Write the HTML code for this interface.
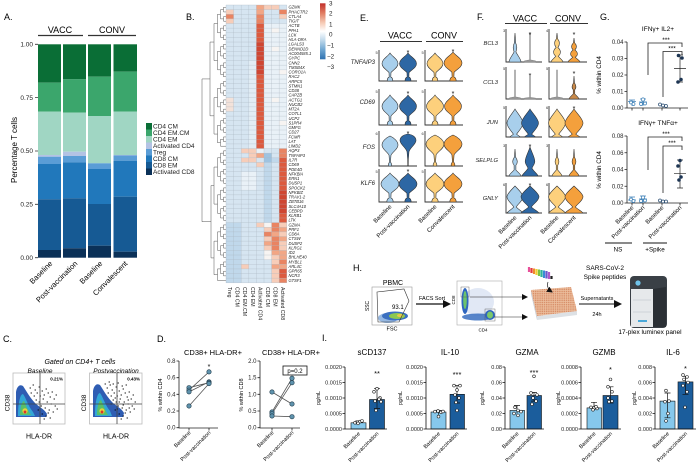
<!DOCTYPE html>
<html><head><meta charset="utf-8"><style>html,body{margin:0;padding:0;background:#fff}svg{display:block}</style></head>
<body>
<svg width="700" height="467" viewBox="0 0 700 467" xmlns="http://www.w3.org/2000/svg" xmlns:xlink="http://www.w3.org/1999/xlink" font-family="Liberation Sans, Arial, sans-serif">
<defs>
<path id="vd" vector-effect="non-scaling-stroke" d="M0,0C0.25,0.12 1,0.22 1,0.38C1,0.52 0.4,0.6 0.12,0.7L0.1,0.86C0.3,0.88 0.35,0.92 0.35,1L-0.35,1C-0.35,0.92 -0.3,0.88 -0.1,0.86L-0.12,0.7C-0.4,0.6 -1,0.52 -1,0.38C-1,0.22 -0.25,0.12 0,0Z"/>
<path id="vf" vector-effect="non-scaling-stroke" d="M0,0C0.6,0.02 1,0.1 1,0.2C1,0.32 0.35,0.4 0.12,0.55L0.04,0.8L0.03,1L-0.03,1L-0.04,0.8L-0.12,0.55C-0.35,0.4 -1,0.32 -1,0.2C-1,0.1 -0.6,0.02 0,0Z"/>
<path id="vfos" vector-effect="non-scaling-stroke" d="M0,0C0.5,0.06 1,0.18 1,0.3C1,0.44 0.35,0.52 0.12,0.64L0.06,0.86L0.2,0.94L0.2,1L-0.2,1L-0.2,0.94L-0.06,0.86L-0.12,0.64C-0.35,0.52 -1,0.44 -1,0.3C-1,0.18 -0.5,0.06 0,0Z"/>
<path id="vj" vector-effect="non-scaling-stroke" d="M0,0C0.3,0.15 1,0.35 1,0.5C1,0.65 0.4,0.8 0.2,0.9C0.4,0.95 0.6,0.98 0.7,1L-0.7,1C-0.6,0.98 -0.4,0.95 -0.2,0.9C-0.4,0.8 -1,0.65 -1,0.5C-1,0.35 -0.3,0.15 0,0Z"/>
<path id="vg" vector-effect="non-scaling-stroke" d="M0,0C0.3,0.1 1,0.28 1,0.4C1,0.55 0.3,0.68 0.15,0.78C0.5,0.88 0.9,0.95 1,1L-1,1C-0.9,0.95 -0.5,0.88 -0.15,0.78C-0.3,0.68 -1,0.55 -1,0.4C-1,0.28 -0.3,0.1 0,0Z"/>
<path id="vs" vector-effect="non-scaling-stroke" d="M0,0L0.12,0.35C0.35,0.45 0.35,0.55 0.15,0.65C0.5,0.8 1,0.9 1,1L-1,1C-1,0.9 -0.5,0.8 -0.15,0.65C-0.35,0.55 -0.35,0.45 -0.12,0.35Z"/>
<path id="vl" vector-effect="non-scaling-stroke" d="M-0.06,0L0.06,0L0.06,0.93L0.9,0.96L0.9,1L-0.9,1L-0.9,0.96L-0.06,0.93Z"/>
<path id="vp" vector-effect="non-scaling-stroke" d="M0,0L0.1,0.3C0.45,0.42 0.5,0.52 0.15,0.6L0.15,0.78C0.6,0.88 1,0.95 1,1L-1,1C-1,0.95 -0.6,0.88 -0.15,0.78L-0.15,0.6C-0.5,0.52 -0.45,0.42 -0.1,0.3Z"/>
<path id="vp2" vector-effect="non-scaling-stroke" d="M0,0C0.15,0.15 0.6,0.35 0.6,0.5C0.6,0.6 0.3,0.66 0.25,0.74C0.6,0.88 1,0.95 1,1L-1,1C-1,0.95 -0.6,0.88 -0.25,0.74C-0.3,0.66 -0.6,0.6 -0.6,0.5C-0.6,0.35 -0.15,0.15 0,0Z"/>
<path id="vk" vector-effect="non-scaling-stroke" d="M0,0L0.1,0.2C0.5,0.3 0.5,0.4 0.15,0.5C0.7,0.6 0.7,0.72 0.2,0.8C0.6,0.9 1,0.95 1,1L-1,1C-1,0.95 -0.6,0.9 -0.2,0.8C-0.7,0.72 -0.7,0.6 -0.15,0.5C-0.5,0.4 -0.5,0.3 -0.1,0.2Z"/>
<linearGradient id="cbar" x1="0" y1="0" x2="0" y2="1">
<stop offset="0" stop-color="#c2302b"/><stop offset="0.17" stop-color="#e07a5f"/><stop offset="0.35" stop-color="#f6cbb6"/><stop offset="0.5" stop-color="#ffffff"/><stop offset="0.65" stop-color="#c3dbec"/><stop offset="0.83" stop-color="#6ea6d1"/><stop offset="1" stop-color="#2d71b0"/>
</linearGradient>
<pattern id="wells" width="2.2" height="2.2" patternUnits="userSpaceOnUse"><circle cx="1.1" cy="1.1" r="0.75" fill="#d27f58"/></pattern>
<marker id="ah" markerWidth="6" markerHeight="6" refX="5" refY="3" orient="auto" markerUnits="userSpaceOnUse"><path d="M0,0L6,3L0,6Z" fill="#111"/></marker>
<marker id="ah2" markerWidth="8" markerHeight="8" refX="6" refY="4" orient="auto" markerUnits="userSpaceOnUse"><path d="M0,0L8,4L0,8Z" fill="#111"/></marker>
</defs>
<rect width="700" height="467" fill="#fff"/>

<!-- ============ PANEL A ============ -->
<text x="4" y="20" font-size="9">A.</text>
<text x="60" y="33" font-size="9" text-anchor="middle">VACC</text>
<text x="112" y="33" font-size="9" text-anchor="middle">CONV</text>
<path d="M38 35.5H83M88 35.5H136" stroke="#333" stroke-width="1.2"/>
<g>
<rect x="38" y="44.3" width="23" height="38.4" fill="#0a6e36"/>
<rect x="38" y="82.7" width="23" height="29" fill="#3ba66c"/>
<rect x="38" y="111.7" width="23" height="43.3" fill="#a0d6c3"/>
<rect x="38" y="155" width="23" height="1.7" fill="#b4c3e4"/>
<rect x="38" y="156.7" width="23" height="7.3" fill="#5a9dd6"/>
<rect x="38" y="164" width="23" height="35.3" fill="#2178bb"/>
<rect x="38" y="199.3" width="23" height="50.7" fill="#165a94"/>
<rect x="38" y="250" width="23" height="7.7" fill="#0b3158"/>

<rect x="63" y="44.3" width="23" height="35" fill="#0a6e36"/>
<rect x="63" y="79.3" width="23" height="33.4" fill="#3ba66c"/>
<rect x="63" y="112.7" width="23" height="39" fill="#a0d6c3"/>
<rect x="63" y="151.7" width="23" height="4.3" fill="#b4c3e4"/>
<rect x="63" y="156" width="23" height="6.3" fill="#5a9dd6"/>
<rect x="63" y="162.3" width="23" height="36" fill="#2178bb"/>
<rect x="63" y="198.3" width="23" height="50" fill="#165a94"/>
<rect x="63" y="248.3" width="23" height="9.4" fill="#0b3158"/>

<rect x="88" y="44.3" width="23" height="32.4" fill="#0a6e36"/>
<rect x="88" y="76.7" width="23" height="39.3" fill="#3ba66c"/>
<rect x="88" y="116" width="23" height="47.3" fill="#a0d6c3"/>
<rect x="88" y="163.3" width="23" height="5.7" fill="#5a9dd6"/>
<rect x="88" y="169" width="23" height="35" fill="#2178bb"/>
<rect x="88" y="204" width="23" height="41.7" fill="#165a94"/>
<rect x="88" y="245.7" width="23" height="12" fill="#0b3158"/>

<rect x="113.5" y="44.3" width="23.5" height="27.4" fill="#0a6e36"/>
<rect x="113.5" y="71.7" width="23.5" height="40" fill="#3ba66c"/>
<rect x="113.5" y="111.7" width="23.5" height="43.3" fill="#a0d6c3"/>
<rect x="113.5" y="155" width="23.5" height="0.6" fill="#b4c3e4"/>
<rect x="113.5" y="155.5" width="23.5" height="5.2" fill="#5a9dd6"/>
<rect x="113.5" y="160.7" width="23.5" height="36" fill="#2178bb"/>
<rect x="113.5" y="196.7" width="23.5" height="55" fill="#165a94"/>
<rect x="113.5" y="251.7" width="23.5" height="6" fill="#0b3158"/>
</g>
<path d="M35 44.3H38M35 97.6H38M35 151H38M35 204.3H38M35 257.7H38" stroke="#333" stroke-width="0.8"/>
<g font-size="6.5" text-anchor="end" fill="#222">
<text x="33" y="46.5">1.00</text><text x="33" y="99.8">0.75</text><text x="33" y="153.2">0.50</text><text x="33" y="206.5">0.25</text><text x="33" y="259.9">0.00</text>
</g>
<text transform="translate(17,150) rotate(-90)" font-size="8" text-anchor="middle">Percentage T cells</text>
<g font-size="7.5" text-anchor="end">
<text transform="translate(53,264) rotate(-45)">Baseline</text>
<text transform="translate(78,264) rotate(-45)">Post-vaccination</text>
<text transform="translate(103,264) rotate(-45)">Baseline</text>
<text transform="translate(128,264) rotate(-45)">Convalescent</text>
</g>
<g>
<rect x="146" y="123" width="6" height="6.5" fill="#0a6e36"/>
<rect x="146" y="129.5" width="6" height="6.5" fill="#3ba66c"/>
<rect x="146" y="136" width="6" height="6.5" fill="#a0d6c3"/>
<rect x="146" y="142.5" width="6" height="6.5" fill="#b4c3e4"/>
<rect x="146" y="149" width="6" height="6.5" fill="#5a9dd6"/>
<rect x="146" y="155.5" width="6" height="6.5" fill="#2178bb"/>
<rect x="146" y="162" width="6" height="6.5" fill="#165a94"/>
<rect x="146" y="168.5" width="6" height="6.5" fill="#0b3158"/>
</g>
<g font-size="6.5" fill="#222">
<text x="153" y="128.6">CD4 CM</text><text x="153" y="135.1">CD4 EM.CM</text><text x="153" y="141.6">CD4 EM</text><text x="153" y="148.1">Activated CD4</text><text x="153" y="154.6">Treg</text><text x="153" y="161.1">CD8 CM</text><text x="153" y="167.6">CD8 EM</text><text x="153" y="174.1">Activated CD8</text>
</g>

<!-- ============ PANEL B ============ -->
<text x="186" y="20" font-size="9">B.</text>
<g transform="translate(0,7.315) scale(1,4.63)" fill="none" stroke="#555" stroke-width="0.5">
<path vector-effect="non-scaling-stroke" d="M226 0H223.5V1H226M226 2H223.5V3H226M226 4H223.5V5H226M226 6H223.5V7H226M226 8H223.5V9H226M226 10H223.5V11H226M226 12H223.5V13H226M226 14H223.5V15H226M226 16H223.5V17H226M226 18H223.5V19H226M226 20H223.5V21H226M226 22H223.5V23H226M226 24H223.5V25H226M226 26H223.5V27H226M226 28H223.5V29H226M226 31H223.5V32H226M226 33H223.5V34H226M226 35H223.5V36H226M226 37H223.5V38H226M226 39H223.5V40H226M226 41H223.5V42H226M226 43H223.5V44H226M226 45H223.5V46H226M226 47H223.5V48H226M226 49H223.5V50H226M226 51H223.5V52H226M226 53H223.5V54H226M226 55H223.5V56H226M226 57H223.5V58H226"/>
<path vector-effect="non-scaling-stroke" d="M223.5 0.5H220.5V2.5H223.5M223.5 4.5H220.5V6.5H223.5M223.5 8.5H220.5V10.5H223.5M223.5 12.5H220.5V14.5H223.5M223.5 16.5H220.5V18.5H223.5M223.5 20.5H220.5V22.5H223.5M223.5 24.5H220.5V26.5H223.5M223.5 28.5H220.5V30H226M223.5 31.5H220.5V33.5H223.5M223.5 35.5H220.5V37.5H223.5M223.5 39.5H220.5V41.5H223.5M223.5 43.5H220.5V45.5H223.5M223.5 47.5H220.5V49.5H223.5M223.5 51.5H220.5V53.5H223.5M223.5 55.5H220.5V57.5H223.5"/>
<path vector-effect="non-scaling-stroke" d="M220.5 1.5H217.5V5.5H220.5M220.5 9.5H217.5V13.5H220.5M220.5 17.5H217.5V21.5H220.5M220.5 25.5H217.5V29.25H220.5M220.5 32.5H217.5V36.5H220.5M220.5 40.5H217.5V44.5H220.5M220.5 48.5H217.5V52.5H220.5M220.5 56.5H217.5V59H226"/>
<path vector-effect="non-scaling-stroke" d="M217.5 3.5H214V11.5H217.5M217.5 19.5H214V27.375H217.5M217.5 34.5H214V42.5H217.5M217.5 50.5H214V57.75H217.5M214 7.5H210V23.44H214M214 38.5H211V54.13H214M210 15.47H202V46.31H211"/>
</g>
<g transform="translate(226,5) scale(7.6,4.63)">
<rect x="0" y="0" width="8" height="60" fill="#d6e5f1"/>
<rect x="5" y="4" width="3" height="27" fill="#e9f1f7"/>
<rect x="3" y="12" width="1" height="19" fill="#e2edf5"/>
<rect x="4" y="4" width="1" height="27" fill="#dc5a3e"/>
<rect x="4" y="8" width="1" height="7" fill="#cf4632"/>
<rect x="4" y="0" width="1" height="2" fill="#f2a685"/>
<rect x="4" y="2" width="1" height="2" fill="#e98462"/>
<rect x="0" y="1" width="1" height="1" fill="#f7cdb9"/>
<rect x="0" y="2" width="1" height="1" fill="#e98462"/>
<rect x="0" y="3" width="1" height="1" fill="#f7cdb9"/>
<rect x="7" y="1" width="1" height="1" fill="#e98462"/>
<rect x="7" y="2" width="1" height="1" fill="#f7cdb9"/>
<rect x="5" y="0" width="2" height="1" fill="#f7cdb9"/>
<rect x="6" y="5" width="1" height="1" fill="#f7f4f2"/>
<rect x="6" y="9" width="1" height="1" fill="#f7f4f2"/>
<rect x="7" y="14" width="1" height="1" fill="#f7f4f2"/>
<rect x="6" y="20" width="1" height="1" fill="#f7f4f2"/>
<rect x="7" y="25" width="1" height="1" fill="#f7f4f2"/>
<rect x="0" y="20" width="1" height="3" fill="#f3e2da"/>
<rect x="7" y="31" width="1" height="16" fill="#dc5a3e"/>
<rect x="7" y="31" width="1" height="2" fill="#e98462"/>
<rect x="7" y="40" width="1" height="5" fill="#cf4632"/>
<rect x="2" y="31" width="2" height="1" fill="#f7cdb9"/>
<rect x="4" y="31" width="1" height="1" fill="#e9f1f7"/>
<rect x="3" y="32" width="1" height="1" fill="#f7cdb9"/>
<rect x="4" y="32" width="1" height="1" fill="#f2a685"/>
<rect x="5" y="32" width="1" height="2" fill="#9fc3e0"/>
<rect x="2" y="33" width="2" height="1" fill="#f7cdb9"/>
<rect x="6" y="33" width="1" height="1" fill="#c0d8eb"/>
<rect x="4" y="34" width="1" height="1" fill="#f7cdb9"/>
<rect x="5" y="34" width="1" height="13" fill="#c0d8eb"/>
<rect x="2" y="36" width="2" height="4" fill="#e9f1f7"/>
<rect x="0" y="47" width="2" height="13" fill="#c0d8eb"/>
<rect x="4" y="47" width="1" height="1" fill="#f7cdb9"/>
<rect x="5" y="47" width="1" height="1" fill="#f7f4f2"/>
<rect x="6" y="47" width="1" height="1" fill="#e98462"/>
<rect x="7" y="47" width="1" height="1" fill="#f7cdb9"/>
<rect x="5" y="48" width="1" height="1" fill="#f7cdb9"/>
<rect x="6" y="48" width="1" height="1" fill="#e98462"/>
<rect x="7" y="48" width="1" height="1" fill="#f2a685"/>
<rect x="5" y="49" width="1" height="1" fill="#e98462"/>
<rect x="6" y="49" width="1" height="1" fill="#f2a685"/>
<rect x="7" y="49" width="1" height="1" fill="#f7cdb9"/>
<rect x="5" y="50" width="1" height="1" fill="#f7cdb9"/>
<rect x="6" y="50" width="1" height="1" fill="#e98462"/>
<rect x="7" y="50" width="1" height="1" fill="#f2a685"/>
<rect x="5" y="51" width="1" height="1" fill="#f2a685"/>
<rect x="6" y="51" width="1" height="1" fill="#e98462"/>
<rect x="7" y="51" width="1" height="1" fill="#f7cdb9"/>
<rect x="5" y="52" width="1" height="1" fill="#f7cdb9"/>
<rect x="6" y="52" width="1" height="1" fill="#e98462"/>
<rect x="7" y="52" width="1" height="1" fill="#f7cdb9"/>
<rect x="5" y="53" width="1" height="2" fill="#f7f4f2"/>
<rect x="6" y="53" width="1" height="1" fill="#f2a685"/>
<rect x="7" y="53" width="1" height="2" fill="#f2a685"/>
<rect x="6" y="54" width="1" height="2" fill="#f7cdb9"/>
<rect x="7" y="55" width="1" height="1" fill="#e98462"/>
<rect x="2" y="56" width="1" height="1" fill="#f7cdb9"/>
<rect x="6" y="56" width="1" height="1" fill="#f2a685"/>
<rect x="7" y="56" width="1" height="1" fill="#f2a685"/>
<rect x="6" y="57" width="1" height="3" fill="#f7cdb9"/>
<rect x="7" y="57" width="1" height="2" fill="#dc5a3e"/>
<rect x="7" y="59" width="1" height="1" fill="#e98462"/>
<path vector-effect="non-scaling-stroke" fill="none" stroke="#aab5bf" stroke-width="0.3" d="M0 0V60M1 0V60M2 0V60M3 0V60M4 0V60M5 0V60M6 0V60M7 0V60M8 0V60M0 0H8M0 1H8M0 2H8M0 3H8M0 4H8M0 5H8M0 6H8M0 7H8M0 8H8M0 9H8M0 10H8M0 11H8M0 12H8M0 13H8M0 14H8M0 15H8M0 16H8M0 17H8M0 18H8M0 19H8M0 20H8M0 21H8M0 22H8M0 23H8M0 24H8M0 25H8M0 26H8M0 27H8M0 28H8M0 29H8M0 30H8M0 31H8M0 32H8M0 33H8M0 34H8M0 35H8M0 36H8M0 37H8M0 38H8M0 39H8M0 40H8M0 41H8M0 42H8M0 43H8M0 44H8M0 45H8M0 46H8M0 47H8M0 48H8M0 49H8M0 50H8M0 51H8M0 52H8M0 53H8M0 54H8M0 55H8M0 56H8M0 57H8M0 58H8M0 59H8M0 60H8"/>
</g>
<text x="288.5" y="8.7" font-size="4.1" font-style="italic" fill="#222"><tspan x="288.5">GZMK</tspan><tspan x="288.5" dy="4.63">PHACTR2</tspan><tspan x="288.5" dy="4.63">CTLA4</tspan><tspan x="288.5" dy="4.63">TIGIT</tspan><tspan x="288.5" dy="4.63">ACTB</tspan><tspan x="288.5" dy="4.63">PPA1</tspan><tspan x="288.5" dy="4.63">LCK</tspan><tspan x="288.5" dy="4.63">HLA-DRA</tspan><tspan x="288.5" dy="4.63">LGALS3</tspan><tspan x="288.5" dy="4.63">DENND2D</tspan><tspan x="288.5" dy="4.63">AC004585.1</tspan><tspan x="288.5" dy="4.63">GYPC</tspan><tspan x="288.5" dy="4.63">CNN2</tspan><tspan x="288.5" dy="4.63">TMSB4X</tspan><tspan x="288.5" dy="4.63">CORO1A</tspan><tspan x="288.5" dy="4.63">RAC2</tspan><tspan x="288.5" dy="4.63">ARPC5</tspan><tspan x="288.5" dy="4.63">STMN1</tspan><tspan x="288.5" dy="4.63">CD38</tspan><tspan x="288.5" dy="4.63">CAPZB</tspan><tspan x="288.5" dy="4.63">ACTG1</tspan><tspan x="288.5" dy="4.63">NUCB2</tspan><tspan x="288.5" dy="4.63">MT2A</tspan><tspan x="288.5" dy="4.63">COTL1</tspan><tspan x="288.5" dy="4.63">UCP2</tspan><tspan x="288.5" dy="4.63">S1PR4</tspan><tspan x="288.5" dy="4.63">GMFG</tspan><tspan x="288.5" dy="4.63">CD27</tspan><tspan x="288.5" dy="4.63">FCMR</tspan><tspan x="288.5" dy="4.63">LAT</tspan><tspan x="288.5" dy="4.63">LIMD2</tspan><tspan x="288.5" dy="4.63">AQP3</tspan><tspan x="288.5" dy="4.63">TNFAIP3</tspan><tspan x="288.5" dy="4.63">IL7R</tspan><tspan x="288.5" dy="4.63">CD69</tspan><tspan x="288.5" dy="4.63">PDE4D</tspan><tspan x="288.5" dy="4.63">NFKBIA</tspan><tspan x="288.5" dy="4.63">ERN1</tspan><tspan x="288.5" dy="4.63">DUSP1</tspan><tspan x="288.5" dy="4.63">SPOCK2</tspan><tspan x="288.5" dy="4.63">NFKBIZ</tspan><tspan x="288.5" dy="4.63">TRAV1-2</tspan><tspan x="288.5" dy="4.63">ZBTB16</tspan><tspan x="288.5" dy="4.63">SLC4A10</tspan><tspan x="288.5" dy="4.63">CEBPD</tspan><tspan x="288.5" dy="4.63">KLRB1</tspan><tspan x="288.5" dy="4.63">LTK</tspan><tspan x="288.5" dy="4.63">GZMA</tspan><tspan x="288.5" dy="4.63">PRF1</tspan><tspan x="288.5" dy="4.63">CD8A</tspan><tspan x="288.5" dy="4.63">CTSW</tspan><tspan x="288.5" dy="4.63">DUSP2</tspan><tspan x="288.5" dy="4.63">KLRG1</tspan><tspan x="288.5" dy="4.63">ID2</tspan><tspan x="288.5" dy="4.63">BHLHE40</tspan><tspan x="288.5" dy="4.63">MYBL1</tspan><tspan x="288.5" dy="4.63">ARL4C</tspan><tspan x="288.5" dy="4.63">GPR65</tspan><tspan x="288.5" dy="4.63">NCR3</tspan><tspan x="288.5" dy="4.63">GTSF1</tspan></text>
<g font-size="5.2" fill="#222">
<text transform="translate(228,287) rotate(90)">Treg</text>
<text transform="translate(235.6,287) rotate(90)">CD4 CM</text>
<text transform="translate(243.2,287) rotate(90)">CD4 EM.CM</text>
<text transform="translate(250.8,287) rotate(90)">CD4 EM</text>
<text transform="translate(258.4,287) rotate(90)">Activated CD4</text>
<text transform="translate(266,287) rotate(90)">CD8 CM</text>
<text transform="translate(273.6,287) rotate(90)">CD8 EM</text>
<text transform="translate(281.2,287) rotate(90)">Activated CD8</text>
</g>
<rect x="320" y="3.3" width="5.5" height="56" fill="url(#cbar)"/>
<g font-size="6.3" fill="#222">
<text x="329" y="5.6">3</text><text x="329" y="15.6">2</text><text x="329" y="26.3">1</text><text x="329" y="36.6">0</text><text x="327" y="47.3">−1</text><text x="327" y="58.3">−2</text><text x="327" y="69">−3</text>
</g>

<!-- ============ PANEL E ============ -->
<text x="360" y="21" font-size="9">E.</text>
<text x="400" y="38.5" font-size="9" text-anchor="middle">VACC</text>
<text x="444" y="38.5" font-size="9" text-anchor="middle">CONV</text>
<path d="M380 41.5H422M426 41.5H463" stroke="#333" stroke-width="1.1"/>
<path d="M379 50V81H417M425 50V81H463M379 89V125H417M425 89V125H463M379 131V166H417M425 131V166H463M379 169V202H417M425 169V202H463" fill="none" stroke="#333" stroke-width="0.9"/>
<g font-size="4" fill="#333">
<text x="375.5" y="54">5</text><text x="421.5" y="54">5</text>
<text x="375.5" y="93">5</text><text x="421.5" y="93">5</text>
<text x="375.5" y="135">6</text><text x="421.5" y="135">6</text>
<text x="375.5" y="173">5</text><text x="421.5" y="173">5</text>
</g>
<g font-size="6" font-style="italic" text-anchor="end" fill="#222">
<text x="375" y="64">TNFAIP3</text><text x="375" y="104">CD69</text><text x="375" y="149">FOS</text><text x="375" y="185">KLF6</text>
</g>
<g stroke="#333" stroke-width="0.6">
<use xlink:href="#vd" href="#vd" transform="translate(390,53) scale(8,28)" fill="#a8cfec"/>
<use xlink:href="#vd" href="#vd" transform="translate(408,53) scale(8.5,28)" fill="#2d67a4"/>
<use xlink:href="#vd" href="#vd" transform="translate(435,53) scale(8,28)" fill="#fdd07c"/>
<use xlink:href="#vd" href="#vd" transform="translate(453,52) scale(9,29)" fill="#f4a03c"/>
<use xlink:href="#vd" href="#vd" transform="translate(390,95) scale(8,30)" fill="#a8cfec"/>
<use xlink:href="#vd" href="#vd" transform="translate(408,95) scale(8.5,30)" fill="#2d67a4"/>
<use xlink:href="#vd" href="#vd" transform="translate(435,95) scale(8.5,30)" fill="#fdd07c"/>
<use xlink:href="#vd" href="#vd" transform="translate(453,95) scale(8.5,30)" fill="#f4a03c"/>
<use xlink:href="#vfos" href="#vfos" transform="translate(390,136) scale(8,30)" fill="#a8cfec"/>
<use xlink:href="#vf" href="#vf" transform="translate(408,134) scale(8,32)" fill="#2d67a4"/>
<use xlink:href="#vfos" href="#vfos" transform="translate(435,135) scale(9,31)" fill="#fdd07c"/>
<use xlink:href="#vfos" href="#vfos" transform="translate(453,135) scale(9,31)" fill="#f4a03c"/>
<use xlink:href="#vd" href="#vd" transform="translate(390,173) scale(9,29)" fill="#a8cfec"/>
<use xlink:href="#vd" href="#vd" transform="translate(408,173) scale(9,29)" fill="#2d67a4"/>
<use xlink:href="#vd" href="#vd" transform="translate(435,173) scale(9,29)" fill="#fdd07c"/>
<use xlink:href="#vd" href="#vd" transform="translate(453,173) scale(9,29)" fill="#f4a03c"/>
</g>
<g font-size="7" text-anchor="middle">
<text x="408" y="55">*</text><text x="453" y="54">*</text>
<text x="408" y="96">*</text><text x="453" y="96">*</text>
<text x="408" y="136">*</text>
<text x="408" y="174">*</text>
</g>
<g font-size="6" text-anchor="end">
<text transform="translate(392,207) rotate(-45)">Baseline</text>
<text transform="translate(410,207) rotate(-45)">Post-vaccination</text>
<text transform="translate(437,207) rotate(-45)">Baseline</text>
<text transform="translate(455,207) rotate(-45)">Convalescent</text>
</g>

<!-- ============ PANEL F ============ -->
<text x="477" y="20" font-size="9">F.</text>
<text x="525" y="21.5" font-size="9" text-anchor="middle">VACC</text>
<text x="568" y="21.5" font-size="9" text-anchor="middle">CONV</text>
<path d="M505 23.5H547M550 23.5H588" stroke="#333" stroke-width="1.1"/>
<path d="M506 29V62H542M549 29V62H587M506 67V99H542M549 67V99H587M506 106V137H542M549 106V137H587M506 144V176H542M549 144V176H587M506 183V213H542M549 183V213H587" fill="none" stroke="#333" stroke-width="0.9"/>
<g font-size="4" fill="#333">
<text x="503" y="32">3</text><text x="546" y="32">4</text>
<text x="503" y="70">5</text><text x="546" y="70">5</text>
<text x="503" y="109">5</text><text x="546" y="109">6</text>
<text x="503" y="147">3</text><text x="546" y="147">3</text>
<text x="503" y="186">6</text><text x="546" y="186">6</text>
</g>
<g font-size="5.8" font-style="italic" text-anchor="end" fill="#222">
<text x="498" y="45">BCL3</text><text x="498" y="84">CCL3</text><text x="498" y="124">JUN</text><text x="498" y="162">SELPLG</text><text x="498" y="200">GNLY</text>
</g>
<g stroke="#333" stroke-width="0.6">
<use xlink:href="#vs" href="#vs" transform="translate(515,33) scale(6,29)" fill="#a8cfec"/>
<use xlink:href="#vl" href="#vl" transform="translate(530,33) scale(6,29)" fill="#9a9a9a" stroke="#888"/>
<use xlink:href="#vk" href="#vk" transform="translate(557,33) scale(6,29)" fill="#fdd07c"/>
<use xlink:href="#vk" href="#vk" transform="translate(574,38) scale(6,24)" fill="#f4a03c"/>
<use xlink:href="#vl" href="#vl" transform="translate(515,70) scale(6,29)" fill="#9a9a9a" stroke="#888"/>
<use xlink:href="#vl" href="#vl" transform="translate(530,76) scale(6,23)" fill="#9a9a9a" stroke="#888"/>
<use xlink:href="#vl" href="#vl" transform="translate(557,70) scale(6,29)" fill="#9a9a9a" stroke="#888"/>
<use xlink:href="#vp" href="#vp" transform="translate(574,76) scale(5,23)" fill="#c98a4a"/>
<use xlink:href="#vj" href="#vj" transform="translate(515,109) scale(8,28)" fill="#a8cfec"/>
<use xlink:href="#vj" href="#vj" transform="translate(530,109) scale(8.5,28)" fill="#2d67a4"/>
<use xlink:href="#vj" href="#vj" transform="translate(557,109) scale(8.5,28)" fill="#fdd07c"/>
<use xlink:href="#vj" href="#vj" transform="translate(574,109) scale(9,28)" fill="#f4a03c"/>
<use xlink:href="#vp" href="#vp" transform="translate(515,149) scale(6,27)" fill="#a8cfec"/>
<use xlink:href="#vp2" href="#vp2" transform="translate(530,147) scale(8,29)" fill="#2d67a4"/>
<use xlink:href="#vp" href="#vp" transform="translate(557,149) scale(5,27)" fill="#fdd07c"/>
<use xlink:href="#vp" href="#vp" transform="translate(574,149) scale(5,27)" fill="#f4a03c"/>
<use xlink:href="#vg" href="#vg" transform="translate(515,186) scale(8,27)" fill="#a8cfec"/>
<use xlink:href="#vg" href="#vg" transform="translate(530,186) scale(9,27)" fill="#2d67a4"/>
<use xlink:href="#vg" href="#vg" transform="translate(557,186) scale(8.5,27)" fill="#fdd07c"/>
<use xlink:href="#vg" href="#vg" transform="translate(574,186) scale(9,27)" fill="#f4a03c"/>
</g>
<g font-size="7" text-anchor="middle">
<text x="530" y="37">*</text><text x="574" y="37">*</text>
<text x="530" y="78">*</text><text x="574" y="76">*</text>
<text x="574" y="111">*</text>
<text x="530" y="149">*</text>
<text x="530" y="188">*</text>
</g>
<g font-size="6" text-anchor="end">
<text transform="translate(517,218) rotate(-45)">Baseline</text>
<text transform="translate(532,218) rotate(-45)">Post-vaccination</text>
<text transform="translate(559,218) rotate(-45)">Baseline</text>
<text transform="translate(576,218) rotate(-45)">Convalescent</text>
</g>

<!-- ============ PANEL G ============ -->
<text x="600" y="20" font-size="9">G.</text>
<text x="658" y="31" font-size="6.5" text-anchor="middle">IFNγ+ IL2+</text>
<path d="M627 42V108H688M624.5 42H627M624.5 58.5H627M624.5 75H627M624.5 91.5H627M624.5 108H627M632 108V110.5M643 108V110.5M662 108V110.5M680 108V110.5" fill="none" stroke="#222" stroke-width="0.8"/>
<g font-size="6" text-anchor="end" fill="#222">
<text x="623.5" y="44">0.04</text><text x="623.5" y="60.5">0.03</text><text x="623.5" y="77">0.02</text><text x="623.5" y="93.5">0.01</text><text x="623.5" y="110">0.00</text>
</g>
<text transform="translate(601,75) rotate(-90)" font-size="6.3" text-anchor="middle">% within CD4</text>
<path d="M648 75V43H682V47M663 97V51.5H682V55" fill="none" stroke="#222" stroke-width="0.8"/>
<g font-size="6.5" text-anchor="middle"><text x="666" y="42">***</text><text x="672" y="50.5">***</text></g>
<g fill="none" stroke-width="0.7">
<path d="M628 101.5H636M632 100V106M629 100H635" stroke="#3b7fb6"/>
<circle cx="631" cy="102.5" r="1.5" stroke="#3b7fb6" fill="#fff"/><circle cx="633.5" cy="104" r="1.5" stroke="#3b7fb6" fill="#fff"/>
<path d="M639 102H647M643 99V106M640 99H646" stroke="#3b7fb6"/>
<circle cx="643" cy="99.5" r="1.6" stroke="#3b7fb6" fill="#fff"/><circle cx="641" cy="104" r="1.5" stroke="#3b7fb6" fill="#fff"/><circle cx="645" cy="103.5" r="1.5" stroke="#3b7fb6" fill="#fff"/>
<circle cx="660" cy="104.5" r="1.5" stroke="#2a4d72" fill="#fff"/><circle cx="663" cy="105.5" r="1.5" stroke="#2a4d72" fill="#fff"/><circle cx="666" cy="106" r="1.5" stroke="#2a4d72" fill="#fff"/>
<path d="M674 68.4H686M680 55V82M677 55H683M677 82H683" stroke="#222"/>
</g>
<g fill="#1d3553"><circle cx="678.5" cy="55.5" r="1.8"/><circle cx="682" cy="58" r="1.8"/><circle cx="681" cy="79.5" r="1.8"/><circle cx="678" cy="82" r="1.8"/></g>

<text x="658" y="125" font-size="6.5" text-anchor="middle">IFNγ+ TNFα+</text>
<path d="M627 136V203H688M624.5 136H627M624.5 152.75H627M624.5 169.5H627M624.5 186.25H627M624.5 203H627M632 203V205.5M643 203V205.5M662 203V205.5M680 203V205.5" fill="none" stroke="#222" stroke-width="0.8"/>
<g font-size="6" text-anchor="end" fill="#222">
<text x="623.5" y="138">0.08</text><text x="623.5" y="154.75">0.06</text><text x="623.5" y="171.5">0.04</text><text x="623.5" y="188.25">0.02</text><text x="623.5" y="205">0.00</text>
</g>
<text transform="translate(601,170) rotate(-90)" font-size="6.3" text-anchor="middle">% within CD4</text>
<path d="M648 170V137H682V141M663 193V146H682V150" fill="none" stroke="#222" stroke-width="0.8"/>
<g font-size="6.5" text-anchor="middle"><text x="666" y="136">***</text><text x="672" y="145">***</text></g>
<g fill="none" stroke-width="0.7">
<path d="M628 200H636M632 197V203M629 197H635" stroke="#3b7fb6"/>
<circle cx="631" cy="199.5" r="1.5" stroke="#3b7fb6" fill="#fff"/><circle cx="633.5" cy="201" r="1.5" stroke="#3b7fb6" fill="#fff"/>
<path d="M639 199H647M643 196V203M640 196H646" stroke="#3b7fb6"/>
<circle cx="643" cy="197.5" r="1.6" stroke="#3b7fb6" fill="#fff"/><circle cx="641" cy="201" r="1.5" stroke="#3b7fb6" fill="#fff"/><circle cx="645" cy="200.5" r="1.5" stroke="#3b7fb6" fill="#fff"/>
<circle cx="660" cy="200.5" r="1.5" stroke="#2a4d72" fill="#fff"/><circle cx="663" cy="201.5" r="1.5" stroke="#2a4d72" fill="#fff"/><circle cx="666" cy="201.5" r="1.5" stroke="#2a4d72" fill="#fff"/>
<path d="M674 173.7H686M680 160V188M677 160H683M677 188H683" stroke="#222"/>
</g>
<g fill="#1d3553"><circle cx="680" cy="160.5" r="1.8"/><circle cx="678" cy="166" r="1.8"/><circle cx="681" cy="177" r="1.8"/><circle cx="679" cy="180" r="1.8"/></g>
<g font-size="6" text-anchor="end">
<text transform="translate(634,208) rotate(-45)">Baseline</text>
<text transform="translate(645,208) rotate(-45)">Post-vaccination</text>
<text transform="translate(664,208) rotate(-45)">Baseline</text>
<text transform="translate(682,208) rotate(-45)">Post-vaccination</text>
</g>
<path d="M605 243H632M643 243H667" stroke="#444" stroke-width="1.2"/>
<text x="618" y="251.5" font-size="6.3" text-anchor="middle">NS</text>
<text x="655" y="251.5" font-size="6.3" text-anchor="middle">+Spike</text>

<!-- ============ PANEL C ============ -->
<text x="3" y="342" font-size="9">C.</text>
<text x="80" y="364" font-size="7" font-style="italic" text-anchor="middle">Gated on CD4+ T cells</text>
<rect x="13" y="373" width="52" height="51" fill="#fff" stroke="#bbb" stroke-width="0.8"/>
<rect x="89.5" y="373" width="52.5" height="51" fill="#fff" stroke="#bbb" stroke-width="0.8"/>
<path d="M16 417L16 392C17 386 20 384 23 386C27 392 30 398 36 404C41 408 45 410 47 414L46 417Z" fill="#2f5db3"/>
<path d="M18 416C18 404 20 394 23 394C26 398 28 406 33 412L35 416Z" fill="#33a6d6"/>
<path d="M20 415C20 408 22 401 24 401C26 405 28 411 31 415Z" fill="#58c06a"/>
<ellipse cx="25" cy="411" rx="2.6" ry="2.8" fill="#e8d23a"/><ellipse cx="25" cy="412" rx="1.4" ry="1.5" fill="#d8372a"/>
<path d="M93 417L93 391C94 385 97 383 100 385C104 391 107 397 113 403C118 407 122 409 124 413L123 417Z" fill="#2f5db3"/>
<path d="M95 416C95 403 97 393 100 393C103 397 105 405 110 411L112 416Z" fill="#33a6d6"/>
<path d="M97 415C97 407 99 400 101 400C103 404 105 410 108 415Z" fill="#58c06a"/>
<ellipse cx="102" cy="411" rx="2.6" ry="2.8" fill="#e8d23a"/><ellipse cx="102" cy="412" rx="1.4" ry="1.5" fill="#d8372a"/>
<path d="M30 388h.5M33 385h.5M35 390h.5M37 393h.5M39 387h.5M42 391h.5M44 395h.5M46 389h.5M48 393h.5M50 397h.5M52 392h.5M54 399h.5M43 399h.5M47 402h.5M51 404h.5M55 406h.5M41 406h.5M45 408h.5M49 410h.5M53 412h.5M38 410h.5M42 414h.5M46 416h.5M50 418h.5M36 400h.5M57 409h.5M40 396h.5M34 396h.5M31 393h.5M56 395h.5M39 402h.5M48 413h.5M44 419h.5M107 388h.5M110 385h.5M112 390h.5M114 393h.5M116 387h.5M119 391h.5M121 395h.5M123 389h.5M125 393h.5M127 397h.5M129 392h.5M131 399h.5M120 399h.5M124 402h.5M128 404h.5M132 406h.5M118 406h.5M122 408h.5M126 410h.5M130 412h.5M115 410h.5M119 414h.5M123 416h.5M127 418h.5M113 400h.5M134 409h.5M117 396h.5M111 396h.5M108 393h.5M133 395h.5M116 402h.5M125 413h.5M121 419h.5M105 384h.5M109 382h.5M113 384h.5M118 383h.5M122 386h.5M126 385h.5M115 398h.5M119 402h.5M123 405h.5M128 400h.5M135 402h.5M111 404h.5M117 409h.5M129 408h.5" stroke="#000" stroke-width="1" stroke-linecap="round"/>
<path d="M40 373V424M13 404H65M117 373V424M89.5 404H142" stroke="#444" stroke-width="0.8"/>
<text x="40" y="373" font-size="6.5" font-style="italic" text-anchor="middle">Baseline</text>
<text x="116" y="373" font-size="6.5" font-style="italic" text-anchor="middle">Postvaccination</text>
<text x="63" y="380.5" font-size="4.5" font-weight="bold" text-anchor="end">0.21%</text>
<text x="140" y="380.5" font-size="4.5" font-weight="bold" text-anchor="end">0.43%</text>
<text transform="translate(9.5,403) rotate(-90)" font-size="6.5" text-anchor="middle">CD38</text>
<text transform="translate(86,403) rotate(-90)" font-size="6.5" text-anchor="middle">CD38</text>
<text x="39" y="438.5" font-size="7" text-anchor="middle">HLA-DR</text>
<text x="116" y="438.5" font-size="7" text-anchor="middle">HLA-DR</text>

<!-- ============ PANEL D ============ -->
<text x="157" y="342" font-size="9">D.</text>
<text x="213" y="355" font-size="7.5" text-anchor="middle">CD38+ HLA-DR+</text>
<text x="291" y="355" font-size="7.5" text-anchor="middle">CD38+ HLA-DR+</text>
<path d="M179 361V428H218M176.5 361H179M176.5 377.7H179M176.5 394.3H179M176.5 411H179M176.5 427.7H179M189 428V430.5M209 428V430.5M260 361V428H300M257.5 361H260M257.5 377.7H260M257.5 394.3H260M257.5 411H260M257.5 427.7H260M272 428V430.5M292 428V430.5" fill="none" stroke="#222" stroke-width="0.8"/>
<g font-size="6" text-anchor="end" fill="#222">
<text x="175.5" y="363">0.8</text><text x="175.5" y="379.7">0.6</text><text x="175.5" y="396.3">0.4</text><text x="175.5" y="413">0.2</text><text x="175.5" y="429.7">0.0</text>
<text x="256.5" y="363">2.0</text><text x="256.5" y="379.7">1.5</text><text x="256.5" y="396.3">1.0</text><text x="256.5" y="413">0.5</text><text x="256.5" y="429.7">0.0</text>
</g>
<text transform="translate(162,395) rotate(-90)" font-size="5.5" text-anchor="middle">% within CD4</text>
<text transform="translate(243,395) rotate(-90)" font-size="5.5" text-anchor="middle">% within CD8</text>
<path d="M189 387.7L209 382.7M189 390.2L209 371.9M189 391.9L209 381.9M189 406L209 383.6M272 392L292 404M272 412L292 378.3M272 413.7L292 382.7M272 416L292 416.7" stroke="#555" stroke-width="0.8"/>
<g fill="#5f93ad" stroke="#1f3a4a" stroke-width="0.6">
<circle cx="189" cy="387.7" r="2.2"/><circle cx="189" cy="390.2" r="2.2"/><circle cx="189" cy="391.9" r="2.2"/><circle cx="189" cy="406" r="2.2"/>
<circle cx="209" cy="371.9" r="2.2"/><circle cx="209" cy="381.9" r="2.2"/><circle cx="209" cy="382.7" r="2.2"/><circle cx="209" cy="383.6" r="2.2"/>
<circle cx="272" cy="392" r="2.2"/><circle cx="272" cy="412" r="2.2"/><circle cx="272" cy="413.7" r="2.2"/><circle cx="272" cy="416" r="2.2"/>
<circle cx="292" cy="378.3" r="2.2"/><circle cx="292" cy="382.7" r="2.2"/><circle cx="292" cy="404" r="2.2"/><circle cx="292" cy="416.7" r="2.2"/>
</g>
<text x="209" y="369" font-size="7" text-anchor="middle">*</text>
<rect x="283" y="366" width="24" height="9" fill="#fff" stroke="#111" stroke-width="0.8"/>
<text x="295" y="373" font-size="6" text-anchor="middle">p=0.2</text>
<g font-size="5.5" text-anchor="end">
<text transform="translate(191,433) rotate(-45)">Baseline</text>
<text transform="translate(211,433) rotate(-45)">Post-vaccination</text>
<text transform="translate(274,433) rotate(-45)">Baseline</text>
<text transform="translate(294,433) rotate(-45)">Post-vaccination</text>
</g>

<!-- ============ PANEL H ============ -->
<text x="353" y="271" font-size="9">H.</text>
<text x="393" y="285" font-size="7" text-anchor="middle">PBMC</text>
<rect x="372" y="287" width="40" height="38" fill="#fff" stroke="#999" stroke-width="0.6"/>
<ellipse cx="388" cy="318" rx="10" ry="5" fill="#6a9ad6" opacity="0.7"/>
<ellipse cx="395" cy="316" rx="13" ry="4.5" fill="#3a6fc0"/>
<ellipse cx="397" cy="316" rx="8" ry="3" fill="#8cc850"/>
<ellipse cx="400" cy="315.5" rx="3" ry="1.6" fill="#e8c84a"/>
<path d="M377 292L404 289L409 301L399 322L378 322Z" fill="none" stroke="#333" stroke-width="0.6"/>
<text x="392" y="309" font-size="6">93.1</text>
<text transform="translate(369,306) rotate(-90)" font-size="5" text-anchor="middle">SSC</text>
<text x="392" y="330.5" font-size="5.5" text-anchor="middle">FSC</text>
<line x1="416" y1="304" x2="449" y2="304" stroke="#111" stroke-width="1.3" marker-end="url(#ah2)"/>
<text x="432" y="300" font-size="5.5" text-anchor="middle">FACS Sort</text>
<rect x="457" y="281" width="45" height="44" fill="#fff" stroke="#aaa" stroke-width="0.6"/>
<ellipse cx="478" cy="302" rx="16" ry="14" fill="#cdd9ee" opacity="0.6"/>
<ellipse cx="478" cy="317" rx="16" ry="3.5" fill="#3a6fc0" opacity="0.85"/>
<ellipse cx="465" cy="301" rx="3.5" ry="13" fill="#2f66bf"/>
<ellipse cx="465" cy="300" rx="1.8" ry="9" fill="#6cc36b"/>
<ellipse cx="490" cy="315" rx="5" ry="5" fill="#2f66bf"/>
<ellipse cx="490" cy="315" rx="3" ry="3.5" fill="#7cc86a"/>
<rect x="461" y="287" width="8" height="10" fill="none" stroke="#555" stroke-width="0.4"/>
<rect x="485" y="309" width="10" height="12" fill="none" stroke="#555" stroke-width="0.4"/>
<text transform="translate(455,300) rotate(-90)" font-size="4.5" text-anchor="middle">CD8</text>
<text x="483" y="331.5" font-size="4.5" text-anchor="middle">CD4</text>
<line x1="470" y1="297" x2="527" y2="297" stroke="#222" stroke-width="0.5" marker-end="url(#ah)"/>
<line x1="494" y1="317" x2="527" y2="317" stroke="#222" stroke-width="0.5" marker-end="url(#ah)"/>
<path d="M531 290L537 316L537 320L531 294Z" fill="#c8ced6"/>
<path d="M537 316L577 311L577 315L537 320Z" fill="#dde1e5"/>
<path d="M531 290L571 287L577 311L537 316Z" fill="#ebbd9c"/>
<path d="M531 290L571 287L577 311L537 316Z" fill="url(#wells)" opacity="0.8"/>
<g stroke-width="2.2">
<line x1="529" y1="267" x2="529" y2="272" stroke="#e7509a"/>
<line x1="531.5" y1="268" x2="531.5" y2="273" stroke="#e33b3b"/>
<line x1="534" y1="268.5" x2="534" y2="274" stroke="#f08a2c"/>
<line x1="536.5" y1="269" x2="536.5" y2="275" stroke="#f2cf2e"/>
<line x1="539" y1="269.5" x2="539" y2="276" stroke="#7cc242"/>
<line x1="541.5" y1="270" x2="541.5" y2="277" stroke="#2fb39a"/>
<line x1="544" y1="270.5" x2="544" y2="278" stroke="#3a8bd6"/>
<line x1="546.5" y1="271" x2="546.5" y2="278.5" stroke="#6a5acd"/>
<line x1="549" y1="272" x2="549" y2="279" stroke="#b05ac8"/>
<line x1="551.5" y1="276" x2="551.5" y2="279" stroke="#222"/>
</g>
<path d="M548 282Q546 288 552 292" fill="none" stroke="#222" stroke-width="0.7" marker-end="url(#ah)"/>
<text x="605" y="270" font-size="6.5" text-anchor="middle">SARS-CoV-2</text>
<text x="605" y="279" font-size="6.5" text-anchor="middle">Spike peptides</text>
<text x="597" y="300" font-size="5.5" text-anchor="middle">Supernatants</text>
<line x1="579" y1="304" x2="620" y2="304" stroke="#111" stroke-width="0.9" marker-end="url(#ah2)"/>
<text x="597" y="316" font-size="5.5" text-anchor="middle">24h</text>
<rect x="630" y="276" width="37" height="52" rx="4" fill="#3a4046"/>
<path d="M631 289H653V327H631Z" fill="#e6e9eb"/>
<path d="M653 289L666 287V327L653 327Z" fill="#2b3035"/>
<circle cx="638" cy="283" r="2.6" fill="#6fc3ea"/>
<path d="M633 300H651M633 312H651" stroke="#b8bfc4" stroke-width="0.5"/>
<rect x="638" y="320" width="9" height="2" fill="#4aa8d8"/>
<text x="650" y="334" font-size="6.5" text-anchor="middle">17-plex luminex panel</text>

<!-- ============ PANEL I ============ -->
<text x="322" y="341" font-size="9">I.</text>
<g font-size="8" text-anchor="middle">
<text x="372" y="355">sCD137</text><text x="450" y="355">IL-10</text><text x="527" y="355">GZMA</text><text x="604" y="355">GZMB</text><text x="673" y="355">IL-6</text>
</g>
<g font-size="5" text-anchor="middle">
<text transform="translate(320,398) rotate(-90)">pg/mL</text>
<text transform="translate(402,398) rotate(-90)">pg/mL</text>
<text transform="translate(484,398) rotate(-90)">pg/mL</text>
<text transform="translate(560,398) rotate(-90)">pg/mL</text>
<text transform="translate(636,398) rotate(-90)">pg/mL</text>
</g>
<g font-size="5.5" text-anchor="end" fill="#222">
<text x="342" y="369">0.0020</text><text x="342" y="384.5">0.0015</text><text x="342" y="400">0.0010</text><text x="342" y="415.5">0.0005</text><text x="342" y="431">0.0000</text>
<text x="423" y="369">0.0020</text><text x="423" y="384.5">0.0015</text><text x="423" y="400">0.0010</text><text x="423" y="415.5">0.0005</text><text x="423" y="431">0.0000</text>
<text x="502" y="369">0.08</text><text x="502" y="384.5">0.06</text><text x="502" y="400">0.04</text><text x="502" y="415.5">0.02</text><text x="502" y="431">0.00</text>
<text x="578" y="369">0.0008</text><text x="578" y="384.5">0.0006</text><text x="578" y="400">0.0004</text><text x="578" y="415.5">0.0002</text><text x="578" y="431">0.0000</text>
<text x="652" y="369">0.008</text><text x="652" y="384.5">0.006</text><text x="652" y="400">0.004</text><text x="652" y="415.5">0.002</text><text x="652" y="431">0.000</text>
</g>
<g stroke="#111" stroke-width="0.6">
<rect x="351" y="422.8" width="15" height="6.2" fill="#86c8ec"/>
<rect x="369.5" y="399.5" width="15" height="29.5" fill="#1b5d9c"/>
<rect x="431" y="412" width="15" height="17" fill="#86c8ec"/>
<rect x="450" y="394.3" width="14.5" height="34.7" fill="#1b5d9c"/>
<rect x="510" y="410.4" width="14.5" height="18.6" fill="#86c8ec"/>
<rect x="527" y="395.5" width="14.5" height="33.5" fill="#1b5d9c"/>
<rect x="587" y="407.9" width="14.5" height="21.1" fill="#86c8ec"/>
<rect x="603" y="395.5" width="15" height="33.5" fill="#1b5d9c"/>
<rect x="660" y="401.1" width="15" height="27.9" fill="#86c8ec"/>
<rect x="678" y="381.9" width="15" height="47.1" fill="#1b5d9c"/>
</g>
<path d="M345 367V429H387M342.5 367H345M342.5 382.5H345M342.5 398H345M342.5 413.5H345M342.5 429H345M426 367V429H467M423.5 367H426M423.5 382.5H426M423.5 398H426M423.5 413.5H426M423.5 429H426M505 367V429H544M502.5 367H505M502.5 382.5H505M502.5 398H505M502.5 413.5H505M502.5 429H505M581 367V429H621M578.5 367H581M578.5 382.5H581M578.5 398H581M578.5 413.5H581M578.5 429H581M655 367V429H696M652.5 367H655M652.5 382.5H655M652.5 398H655M652.5 413.5H655M652.5 429H655" fill="none" stroke="#111" stroke-width="0.8"/>
<path d="M358.5 424V420.9M355.5 420.9H361.5M377 408.5V388.7M374 388.7H380M374 408.5H380M438.5 414.7V410.4M435.5 410.4H441.5M457 403V385.6M454 385.6H460M454 403H460M517 413.5V405.4M514 405.4H520M534 401.1V392.4M531 392.4H537M531 401.1H537M594 409.8V402.3M591 402.3H597M610.5 403V386.8M607.5 386.8H613.5M607.5 403H613.5M667.5 417.8V393M664.5 393H670.5M664.5 417.8H670.5M685.5 394.3V376.3M682.5 376.3H688.5M682.5 394.3H688.5" stroke="#111" stroke-width="0.7"/>
<g fill="#fff" stroke="#222" stroke-width="0.6">
<circle cx="355" cy="422.8" r="1.4"/><circle cx="357.5" cy="422.2" r="1.4"/><circle cx="360" cy="421.6" r="1.4"/><circle cx="362" cy="420.9" r="1.4"/><circle cx="358" cy="423.4" r="1.4"/>
<circle cx="376" cy="410.4" r="1.4"/><circle cx="377" cy="388.7" r="1.4"/><circle cx="374" cy="391.8" r="1.4"/><circle cx="380" cy="398" r="1.4"/><circle cx="375" cy="401.1" r="1.4"/><circle cx="379" cy="399.2" r="1.4"/><circle cx="381" cy="401.7" r="1.4"/>
<circle cx="435" cy="411.6" r="1.4"/><circle cx="438" cy="411" r="1.4"/><circle cx="441" cy="412.3" r="1.4"/><circle cx="438.5" cy="416.6" r="1.4"/><circle cx="443" cy="411.5" r="1.4"/>
<circle cx="454" cy="385.6" r="1.4"/><circle cx="460" cy="385.6" r="1.4"/><circle cx="457" cy="390" r="1.4"/><circle cx="455" cy="394.9" r="1.4"/><circle cx="459" cy="398" r="1.4"/><circle cx="456" cy="402.3" r="1.4"/><circle cx="457" cy="410.4" r="1.4"/>
<circle cx="515" cy="407.3" r="1.4"/><circle cx="518" cy="410.4" r="1.4"/><circle cx="521" cy="411.6" r="1.4"/><circle cx="514" cy="413.5" r="1.4"/><circle cx="518" cy="415.4" r="1.4"/>
<circle cx="534" cy="376.3" r="1.4"/><circle cx="531" cy="393" r="1.4"/><circle cx="537" cy="394.9" r="1.4"/><circle cx="533" cy="398" r="1.4"/><circle cx="536" cy="401.1" r="1.4"/><circle cx="532" cy="404.2" r="1.4"/>
<circle cx="591" cy="407.3" r="1.4"/><circle cx="594" cy="408" r="1.4"/><circle cx="597" cy="408.5" r="1.4"/><circle cx="593" cy="409.8" r="1.4"/><circle cx="596" cy="406.7" r="1.4"/>
<circle cx="610.5" cy="379.4" r="1.4"/><circle cx="608" cy="386.8" r="1.4"/><circle cx="612" cy="391.8" r="1.4"/><circle cx="608" cy="398" r="1.4"/><circle cx="612" cy="401.1" r="1.4"/><circle cx="609" cy="401.7" r="1.4"/>
<circle cx="666" cy="390.6" r="1.4"/><circle cx="669" cy="401.1" r="1.4"/><circle cx="665" cy="401.7" r="1.4"/><circle cx="668" cy="413.5" r="1.4"/><circle cx="666" cy="420.9" r="1.4"/>
<circle cx="683" cy="375" r="1.4"/><circle cx="687" cy="376.9" r="1.4"/><circle cx="684" cy="379.4" r="1.4"/><circle cx="688" cy="382.5" r="1.4"/><circle cx="683" cy="385.6" r="1.4"/><circle cx="687" cy="391.8" r="1.4"/><circle cx="685" cy="407.3" r="1.4"/>
</g>
<g font-size="7.5" text-anchor="middle">
<text x="377" y="376">**</text><text x="457" y="377">***</text><text x="534" y="375">***</text><text x="610.5" y="372">*</text><text x="685.5" y="371">*</text>
</g>
<g font-size="5.5" text-anchor="end">
<text transform="translate(360.5,434) rotate(-45)">Baseline</text>
<text transform="translate(379,434) rotate(-45)">Post-vaccination</text>
<text transform="translate(440.5,434) rotate(-45)">Baseline</text>
<text transform="translate(459,434) rotate(-45)">Post-vaccination</text>
<text transform="translate(519,434) rotate(-45)">Baseline</text>
<text transform="translate(536,434) rotate(-45)">Post-vaccination</text>
<text transform="translate(596,434) rotate(-45)">Baseline</text>
<text transform="translate(612.5,434) rotate(-45)">Post-vaccination</text>
<text transform="translate(669.5,434) rotate(-45)">Baseline</text>
<text transform="translate(687.5,434) rotate(-45)">Post-vaccination</text>
</g>
</svg>
</body></html>
